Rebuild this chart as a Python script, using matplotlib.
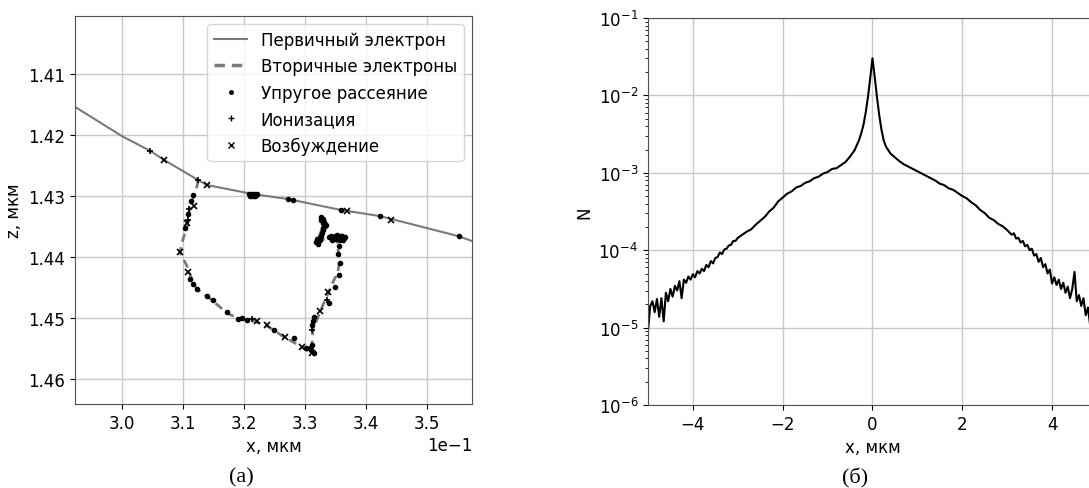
import numpy as np
import matplotlib
matplotlib.use("Agg")
import matplotlib.pyplot as plt
from matplotlib.lines import Line2D

plt.rcParams['font.family'] = ['DejaVu Sans']
plt.rcParams['font.size'] = 12

# ---- (a) trajectory data, x and z in мкм ----
primary_x = [0.2923, 0.3000, 0.3046, 0.3069, 0.3125, 0.3139, 0.3215, 0.3272, 0.3359, 0.3423, 0.3552, 0.3574]
primary_z = [1.4154, 1.4202, 1.4226, 1.4241, 1.4274, 1.4282, 1.4297, 1.4305, 1.4323, 1.4333, 1.4366, 1.4374]

secondary_x = [0.3125, 0.3123, 0.3116, 0.3110, 0.3107, 0.3100, 0.3095, 0.3107, 0.3115, 0.3123,
               0.3139, 0.3149, 0.3172, 0.3193, 0.3210, 0.3238, 0.3264, 0.3292, 0.3308, 0.3312,
               0.3313, 0.3320, 0.3325, 0.3336, 0.3346, 0.3354, 0.3357, 0.3354, 0.3353, 0.3362,
               0.3346, 0.3320, 0.3328, 0.3330]
secondary_z = [1.4274, 1.4284, 1.4305, 1.4326, 1.4349, 1.4371, 1.4392, 1.4416, 1.4439, 1.4453,
               1.4464, 1.4472, 1.4492, 1.4502, 1.4503, 1.4513, 1.4530, 1.4546, 1.4556, 1.4539,
               1.4518, 1.4502, 1.4489, 1.4464, 1.4441, 1.4425, 1.4403, 1.4387, 1.4374, 1.4367,
               1.4367, 1.4374, 1.4354, 1.4338]

elastic_x = [0.3209, 0.3211, 0.3213, 0.3215, 0.3217, 0.3219, 0.3221, 0.3210, 0.3214, 0.3218,
             0.3272, 0.3280, 0.3359, 0.3423, 0.3552,
             0.3116, 0.3113, 0.3108, 0.3104, 0.3112, 0.3117, 0.3123, 0.3139, 0.3149, 0.3172,
             0.3190, 0.3196, 0.3205, 0.3250, 0.3282, 0.3302, 0.3310, 0.3311, 0.3313, 0.3315,
             0.3340, 0.3350, 0.3355, 0.3357, 0.3354, 0.3356, 0.3312, 0.3314, 0.3309,
             0.3320, 0.3322, 0.3325, 0.3328, 0.3329, 0.3331, 0.3326, 0.3330, 0.3333,
             0.3318, 0.3321, 0.3324, 0.3327, 0.3332, 0.3335, 0.3329, 0.3327, 0.3330,
             0.3340, 0.3343, 0.3345, 0.3350, 0.3355, 0.3360, 0.3364, 0.3348, 0.3358,
             0.3352, 0.3362, 0.3366, 0.3344, 0.3353, 0.3359]
elastic_z = [1.4296, 1.4298, 1.4296, 1.4298, 1.4296, 1.4298, 1.4297, 1.4300, 1.4300, 1.4300,
             1.4305, 1.4307, 1.4323, 1.4333, 1.4366,
             1.4299, 1.4308, 1.4330, 1.4352, 1.4436, 1.4445, 1.4452, 1.4464, 1.4470, 1.4490,
             1.4501, 1.4500, 1.4503, 1.4520, 1.4533, 1.4550, 1.4553, 1.4512, 1.4505, 1.4498,
             1.4475, 1.4450, 1.4430, 1.4410, 1.4395, 1.4382, 1.4545, 1.4558, 1.4550,
             1.4370, 1.4375, 1.4368, 1.4360, 1.4352, 1.4345, 1.4340, 1.4338, 1.4350,
             1.4376, 1.4378, 1.4373, 1.4365, 1.4342, 1.4348, 1.4355, 1.4335, 1.4344,
             1.4368, 1.4365, 1.4369, 1.4366, 1.4368, 1.4366, 1.4369, 1.4371, 1.4372,
             1.4364, 1.4372, 1.4368, 1.4372, 1.4371, 1.4365]

ionization_x = [0.3046, 0.3125, 0.3110, 0.3108, 0.3213, 0.3311, 0.3336]
ionization_z = [1.4226, 1.4274, 1.4322, 1.4340, 1.4502, 1.4520, 1.4470]

excitation_x = [0.3069, 0.3139, 0.3369, 0.3441, 0.3118, 0.3107, 0.3095, 0.3108, 0.3221,
                0.3238, 0.3267, 0.3295, 0.3325, 0.3338, 0.3311]
excitation_z = [1.4241, 1.4282, 1.4325, 1.4339, 1.4316, 1.4345, 1.4392, 1.4425, 1.4505,
                1.4512, 1.4531, 1.4548, 1.4489, 1.4457, 1.4557]

# ---- (б) distribution data ----
dist_x = [-5.00, -4.95, -4.90, -4.85, -4.80, -4.75, -4.70, -4.65, -4.60, -4.55,
          -4.50, -4.45, -4.40, -4.35, -4.30, -4.25, -4.20, -4.15, -4.10, -4.05,
          -4.00, -3.95, -3.90, -3.85, -3.80, -3.75, -3.70, -3.65, -3.60, -3.55,
          -3.50, -3.45, -3.40, -3.35, -3.30, -3.25, -3.20, -3.15, -3.10, -3.05,
          -3.00, -2.90, -2.80, -2.70, -2.60, -2.50, -2.40, -2.30, -2.20, -2.10,
          -2.00, -1.90, -1.80, -1.70, -1.60, -1.50, -1.40, -1.30, -1.20, -1.10,
          -1.00, -0.90, -0.80, -0.70, -0.60, -0.50, -0.40, -0.30, -0.25, -0.20,
          -0.15, -0.10, -0.05, 0.00, 0.05, 0.10, 0.15, 0.20, 0.25, 0.30,
          0.40, 0.50, 0.60, 0.70, 0.80, 0.90, 1.00, 1.10, 1.20, 1.30,
          1.40, 1.50, 1.60, 1.70, 1.80, 1.90, 2.00, 2.10, 2.20, 2.30,
          2.40, 2.50, 2.60, 2.70, 2.80, 2.90, 3.00, 3.05, 3.10, 3.15,
          3.20, 3.25, 3.30, 3.35, 3.40, 3.45, 3.50, 3.55, 3.60, 3.65,
          3.70, 3.75, 3.80, 3.85, 3.90, 3.95, 4.00, 4.05, 4.10, 4.15,
          4.20, 4.25, 4.30, 4.35, 4.40, 4.45, 4.50, 4.55, 4.60, 4.65,
          4.70, 4.75, 4.80, 4.85, 4.90, 4.95, 5.00]
dist_log = [-5.05, -4.72, -4.66, -4.80, -4.63, -4.86, -4.62, -4.92, -4.55, -4.66,
            -4.50, -4.60, -4.46, -4.52, -4.40, -4.62, -4.38, -4.42, -4.34, -4.38,
            -4.31, -4.35, -4.27, -4.30, -4.24, -4.27, -4.19, -4.22, -4.14, -4.17,
            -4.10, -4.09, -4.03, -4.05, -3.99, -3.98, -3.94, -3.93, -3.88, -3.88,
            -3.84, -3.80, -3.76, -3.73, -3.67, -3.62, -3.57, -3.50, -3.45, -3.37,
            -3.32, -3.27, -3.24, -3.19, -3.17, -3.13, -3.11, -3.07, -3.05, -3.01,
            -2.99, -2.95, -2.94, -2.90, -2.86, -2.79, -2.71, -2.58, -2.49, -2.38,
            -2.22, -2.02, -1.78, -1.52, -1.76, -2.02, -2.25, -2.44, -2.58, -2.66,
            -2.75, -2.80, -2.85, -2.89, -2.92, -2.95, -2.98, -3.01, -3.04, -3.07,
            -3.10, -3.14, -3.16, -3.20, -3.22, -3.26, -3.30, -3.33, -3.38, -3.42,
            -3.48, -3.52, -3.58, -3.61, -3.66, -3.69, -3.74, -3.77, -3.80, -3.78,
            -3.85, -3.84, -3.90, -3.88, -3.95, -3.93, -4.00, -3.98, -4.07, -4.05,
            -4.15, -4.10, -4.22, -4.18, -4.30, -4.25, -4.43, -4.35, -4.45, -4.38,
            -4.50, -4.42, -4.55, -4.47, -4.62, -4.50, -4.28, -4.66, -4.58, -4.72,
            -4.62, -4.84, -4.74, -4.98, -4.85, -5.02, -4.90]
dist_N = 10 ** np.array(dist_log)

fig = plt.figure(figsize=(10.89, 4.89), dpi=100)

grid_kw = dict(color='#c8c8c8', linewidth=1.0)

#----(a) trajectory----
ax1 = fig.add_axes([0.0689, 0.1718, 0.3646, 0.7935])
ax1.plot(primary_x, primary_z, '-', color='#7a7a7a', linewidth=1.5)
ax1.plot(secondary_x, secondary_z, '--', color='#7a7a7a', linewidth=2.0, dashes=(3, 2))
ax1.plot(elastic_x, elastic_z, '.', color='black', markersize=6)
ax1.plot(ionization_x, ionization_z, '+', color='black', markersize=5, markeredgewidth=1.2)
ax1.plot(excitation_x, excitation_z, 'x', color='black', markersize=5, markeredgewidth=1.2)

ax1.set_xlim(0.2923, 0.3574)
ax1.set_ylim(1.4641, 1.4005)
ax1.set_xticks([0.30, 0.31, 0.32, 0.33, 0.34, 0.35])
ax1.set_yticks([1.41, 1.42, 1.43, 1.44, 1.45, 1.46])
ax1.ticklabel_format(axis='x', style='sci', scilimits=(0, 0))
ax1.grid(True, **grid_kw)
ax1.set_axisbelow(True)
ax1.set_xlabel('x, мкм')
ax1.set_ylabel('z, мкм')

handles = [
    Line2D([], [], color='#7a7a7a', linestyle='-', linewidth=1.5),
    Line2D([], [], color='#7a7a7a', linestyle='--', linewidth=2.5, dashes=(3, 2)),
    Line2D([], [], color='black', linestyle='none', marker='.', markersize=5),
    Line2D([], [], color='black', linestyle='none', marker='+', markersize=5),
    Line2D([], [], color='black', linestyle='none', marker='x', markersize=5),
]
labels = ['Первичный электрон', 'Вторичные электроны', 'Упругое рассеяние', 'Ионизация', 'Возбуждение']
ax1.legend(handles, labels, loc='upper right')

#----(б) distribution----
ax2 = fig.add_axes([0.595, 0.1697, 0.4123, 0.7914])
ax2.plot(dist_x, dist_N, '-', color='black', linewidth=1.5)
ax2.set_yscale('log')
ax2.set_xlim(-5, 5)
ax2.set_ylim(1e-6, 1e-1)
ax2.set_xticks([-4, -2, 0, 2, 4])
ax2.grid(True, which='major', **grid_kw)
ax2.set_axisbelow(True)
ax2.set_xlabel('x, мкм')
ax2.set_ylabel('N')

for ax in (ax1, ax2):
    for sp in ax.spines.values():
        sp.set_color('#505050')

# captions
fig.text(241 / 1089, 1 - 478 / 489, '(а)', family='Liberation Serif', fontsize=16,
         ha='center', va='center')
fig.text(855 / 1089, 1 - 478 / 489, '(б)', family='Liberation Serif', fontsize=16,
         ha='center', va='center')

fig.savefig('out.png', dpi=100)
